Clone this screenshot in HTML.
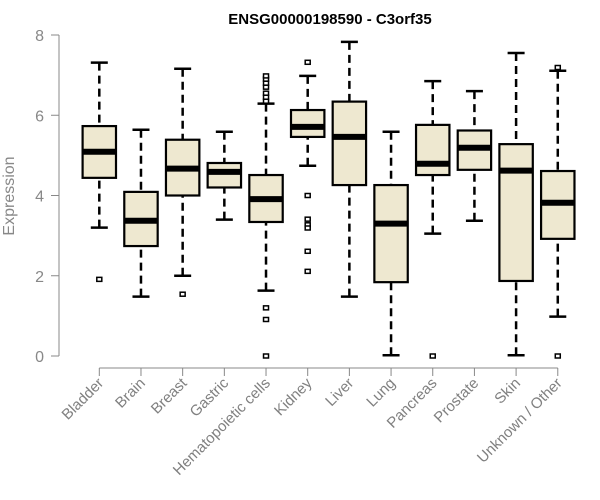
<!DOCTYPE html>
<html><head><meta charset="utf-8"><style>
body{margin:0;background:#fff}
svg{display:block;font-family:"Liberation Sans",sans-serif}
</style></head><body>
<svg id="chart" width="600" height="500">
<text x="330" y="24" text-anchor="middle" font-weight="bold" font-size="15">ENSG00000198590 - C3orf35</text>
<text transform="translate(14,196) rotate(-90)" text-anchor="middle" font-size="16" fill="#888">Expression</text>
<g id="axes"></g><g id="boxes"></g>
</svg>
<script>
const categories=["Bladder","Brain","Breast","Gastric","Hematopoietic cells","Kidney","Liver","Lung","Pancreas","Prostate","Skin","Unknown / Other"];
const whiskerLow=[3.20,1.48,2.00,3.40,1.63,4.74,1.48,0.02,3.05,3.37,0.02,0.98];
const q1=[4.44,2.74,4.00,4.20,3.34,5.46,4.26,1.84,4.51,4.64,1.87,2.92];
const median=[5.09,3.37,4.67,4.59,3.91,5.71,5.46,3.30,4.79,5.19,4.62,3.82];
const q3=[5.73,4.09,5.39,4.81,4.51,6.13,6.34,4.26,5.76,5.62,5.28,4.61];
const whiskerHigh=[7.31,5.64,7.16,5.59,6.29,6.98,7.83,5.59,6.85,6.60,7.55,7.11];
const outliers=[[1.91],[],[1.54],[],[0,0.91,1.20,6.35,6.45,6.55,6.7,6.8,6.9,6.98],[7.32,4.00,3.41,3.27,3.19,2.61,2.11],[],[],[0],[],[],[0,7.19]];
const yTicks=[0,2,4,6,8];
const NS="http://www.w3.org/2000/svg";
const y=v=>356-v*40.125;
const x=i=>99.3+i*41.68;
function mk(tag,attrs,parent){const e=document.createElementNS(NS,tag);for(const k in attrs)e.setAttribute(k,attrs[k]);parent.appendChild(e);return e;}
const ax=document.getElementById('axes'),bx=document.getElementById('boxes');
let l=mk('line',{x1:59,x2:59,y1:y(8),y2:y(0),stroke:'#888'},ax);


yTicks.forEach(t=>{
 let tk=mk('line',{x1:51,x2:59,y1:y(t),y2:y(t),stroke:'#888'},ax);
 
 
 let tx=mk('text',{x:44,y:y(t)+6,'text-anchor':'end','font-size':16,fill:'#888'},ax);
 tx.textContent=t;
 
 
});
l=mk('line',{x1:x(0),x2:x(categories.length-1),y1:368,y2:368,stroke:'#888'},ax);


categories.forEach((c,i)=>{
 const cx=x(i);
 let tk=mk('line',{x1:cx,x2:cx,y1:368,y2:376,stroke:'#888'},ax);
 
 
 let tx=mk('text',{transform:`translate(${cx+5},${384}) rotate(-45)`,'text-anchor':'end','font-size':15,fill:'#808080'},ax);
 tx.textContent=c;
 
 
 const g=mk('g',{},bx);
 
 
 mk('line',{x1:cx,x2:cx,y1:y(whiskerHigh[i]),y2:y(q3[i]),stroke:'#000','stroke-width':2.5,'stroke-dasharray':'8,5'},g);
 mk('line',{x1:cx,x2:cx,y1:y(whiskerLow[i]),y2:y(q1[i]),stroke:'#000','stroke-width':2.5,'stroke-dasharray':'8,5'},g);
 mk('line',{x1:cx-8.5,x2:cx+8.5,y1:y(whiskerHigh[i]),y2:y(whiskerHigh[i]),stroke:'#000','stroke-width':2.5},g);
 mk('line',{x1:cx-8.5,x2:cx+8.5,y1:y(whiskerLow[i]),y2:y(whiskerLow[i]),stroke:'#000','stroke-width':2.5},g);
 mk('rect',{x:cx-16.7,y:y(q3[i]),width:33.4,height:y(q1[i])-y(q3[i]),fill:'#EEE8D0',stroke:'#000','stroke-width':2.2},g);
 mk('line',{x1:cx-16.7,x2:cx+16.7,y1:y(median[i]),y2:y(median[i]),stroke:'#000','stroke-width':6},g);
 outliers[i].forEach(o=>{
  let p=mk('rect',{x:cx-2.5,y:y(o)-2,width:5,height:4,fill:'#fff',stroke:'#000','stroke-width':1.5},g);
  
  
 });
});
</script>
</body></html>
